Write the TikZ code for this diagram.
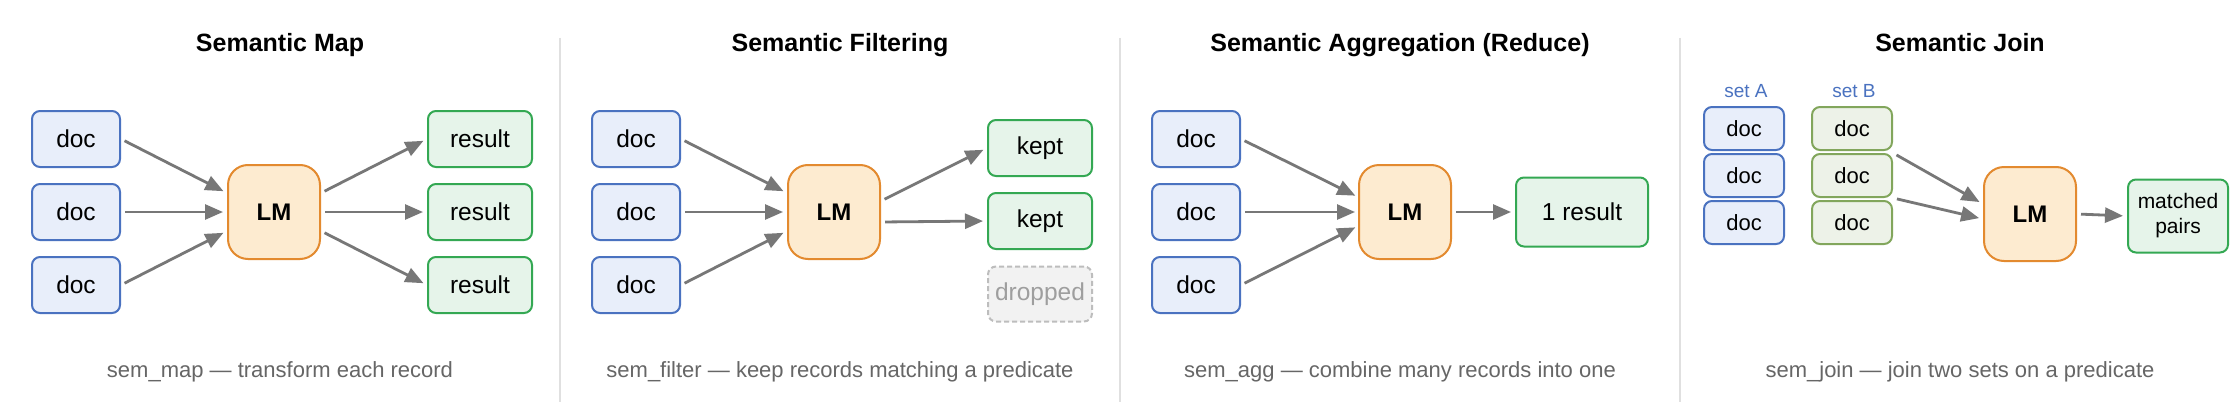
\documentclass[tikz,border=0pt]{standalone}
\usepackage{fontspec}
\setmainfont{Liberation Sans}
\usetikzlibrary{arrows.meta,calc}
\definecolor{docfill}{HTML}{E8EEFA}
\definecolor{docdraw}{HTML}{4A72C0}
\definecolor{lmfill}{HTML}{FDEBD0}
\definecolor{lmdraw}{HTML}{E38A2F}
\definecolor{resfill}{HTML}{E6F4EA}
\definecolor{resdraw}{HTML}{34A853}
\definecolor{bfill}{HTML}{EDF2E8}
\definecolor{bdraw}{HTML}{82A65C}
\definecolor{dropfill}{HTML}{F2F2F2}
\definecolor{dropdraw}{HTML}{BDBDBD}
\definecolor{droptext}{HTML}{9E9E9E}
\definecolor{arrowc}{HTML}{777777}
\definecolor{captc}{HTML}{666666}
\definecolor{sepc}{HTML}{E0E0E0}
\tikzset{
  x=1pt, y=-1pt,
  box/.style={rounded corners=8pt, line width=2pt, inner sep=0pt, align=center,
    font=\fontsize{24.5}{28}\selectfont},
  docbox/.style={box, fill=docfill, draw=docdraw, minimum width=88pt, minimum height=56pt},
  resbox/.style={box, fill=resfill, draw=resdraw, minimum width=104pt, minimum height=56pt},
  dropbox/.style={box, fill=dropfill, draw=dropdraw, dashed, dash pattern=on 5pt off 3pt,
    text=droptext, minimum width=104pt, minimum height=55pt},
  lmbox/.style={rounded corners=20pt, line width=2pt, fill=lmfill, draw=lmdraw,
    minimum width=92pt, minimum height=94pt, inner sep=0pt,
    font=\fontsize{24}{28}\selectfont\bfseries},
  adoc/.style={box, fill=docfill, draw=docdraw, minimum width=80pt, minimum height=43pt,
    font=\fontsize{22}{26}\selectfont},
  bdoc/.style={box, fill=bfill, draw=bdraw, minimum width=80pt, minimum height=43pt,
    font=\fontsize{22}{26}\selectfont},
  arr/.style={draw=arrowc, line width=2.8pt, -{Triangle[length=18pt,width=15pt]},
    shorten <=4pt, shorten >=4pt},
  ttl/.style={anchor=base, font=\fontsize{25}{30}\selectfont\bfseries},
  capt/.style={anchor=base, text=captc, font=\fontsize{22}{26}\selectfont},
  setlbl/.style={text=docdraw, font=\fontsize{19}{22}\selectfont},
  sep/.style={draw=sepc, line width=1.5pt}
}
\begin{document}
\begin{tikzpicture}
\useasboundingbox (0,0) rectangle (2240,420);
\fill[white] (0,0) rectangle (2240,420);
% separators
\coordinate (s1t) at (560,38); \coordinate (s1b) at (560,402);
\coordinate (s2t) at (1120,38); \coordinate (s2b) at (1120,402);
\coordinate (s3t) at (1680,38); \coordinate (s3b) at (1680,402);
\draw[sep] (s1t) -- (s1b);
\draw[sep] (s2t) -- (s2b);
\draw[sep] (s3t) -- (s3b);

% ---------- Panel 1: Semantic Map ----------
\node[ttl] (t1) at (280,52) {Semantic Map};
\node[docbox] (m1) at (76,139) {doc};
\node[docbox] (m2) at (76,212) {doc};
\node[docbox] (m3) at (76,285) {doc};
\node[lmbox] (mlm) at (274,212) {LM};
\node[resbox] (mr1) at (480,139) {result};
\node[resbox] (mr2) at (480,212) {result};
\node[resbox] (mr3) at (480,285) {result};
\draw[arr] (m1.east) -- ($(mlm.west)+(0,-19)$);
\draw[arr] (m2.east) -- (mlm.west);
\draw[arr] (m3.east) -- ($(mlm.west)+(0,19)$);
\draw[arr] ($(mlm.east)+(0,-19)$) -- (mr1.west);
\draw[arr] (mlm.east) -- (mr2.west);
\draw[arr] ($(mlm.east)+(0,19)$) -- (mr3.west);
\node[capt] (c1) at (280,377) {sem\_map — transform each record};

% ---------- Panel 2: Semantic Filtering ----------
\node[ttl] (t2) at (840,52) {Semantic Filtering};
\node[docbox] (f1) at (636,139) {doc};
\node[docbox] (f2) at (636,212) {doc};
\node[docbox] (f3) at (636,285) {doc};
\node[lmbox] (flm) at (834,212) {LM};
\node[resbox] (k1) at (1040,148) {kept};
\node[resbox] (k2) at (1040,221) {kept};
\node[dropbox] (dr) at (1040,294) {dropped};
\draw[arr] (f1.east) -- ($(flm.west)+(0,-19)$);
\draw[arr] (f2.east) -- (flm.west);
\draw[arr] (f3.east) -- ($(flm.west)+(0,19)$);
\draw[arr] ($(flm.east)+(0,-11)$) -- (k1.west);
\draw[arr] ($(flm.east)+(0,10)$) -- (k2.west);
\node[capt] (c2) at (840,377) {sem\_filter — keep records matching a predicate};

% ---------- Panel 3: Semantic Aggregation ----------
\node[ttl] (t3) at (1400,52) {Semantic Aggregation (Reduce)};
\node[docbox] (g1) at (1196,139) {doc};
\node[docbox] (g2) at (1196,212) {doc};
\node[docbox] (g3) at (1196,285) {doc};
\node[lmbox] (glm) at (1405,212) {LM};
\node[resbox, minimum width=132pt, minimum height=69pt] (gr) at (1582,212) {1 result};
\draw[arr, shorten >=3pt] (g1.east) -- ($(glm.west)+(0,-15)$);
\draw[arr, shorten >=3pt] (g2.east) -- (glm.west);
\draw[arr, shorten >=3pt] (g3.east) -- ($(glm.west)+(0,14)$);
\draw[arr] (glm.east) -- (gr.west);
\node[capt] (c3) at (1400,377) {sem\_agg — combine many records into one};

% ---------- Panel 4: Semantic Join ----------
\node[ttl] (t4) at (1960,52) {Semantic Join};
\node[setlbl] (la) at (1746,91) {set A};
\node[setlbl] (lb) at (1854,91) {set B};
\node[adoc] (a1) at (1744,128.5) {doc};
\node[adoc] (a2) at (1744,175.5) {doc};
\node[adoc] (a3) at (1744,222.5) {doc};
\node[bdoc] (b1) at (1852,128.5) {doc};
\node[bdoc] (b2) at (1852,175.5) {doc};
\node[bdoc] (b3) at (1852,222.5) {doc};
\node[lmbox] (jlm) at (2030,214) {LM};
\node[resbox, minimum width=100pt, minimum height=73pt,
  font=\fontsize{21}{25}\selectfont] (jr) at (2178,216) {matched\\pairs};
\draw[arr] (b2.north east) -- ($(jlm.west)+(0,-10)$);
\draw[arr] (b2.south east) -- ($(jlm.west)+(0,5)$);
\draw[arr] (jlm.east) -- (jr.west);
\node[capt] (c4) at (1960,377) {sem\_join — join two sets on a predicate};
\end{tikzpicture}
\end{document}
